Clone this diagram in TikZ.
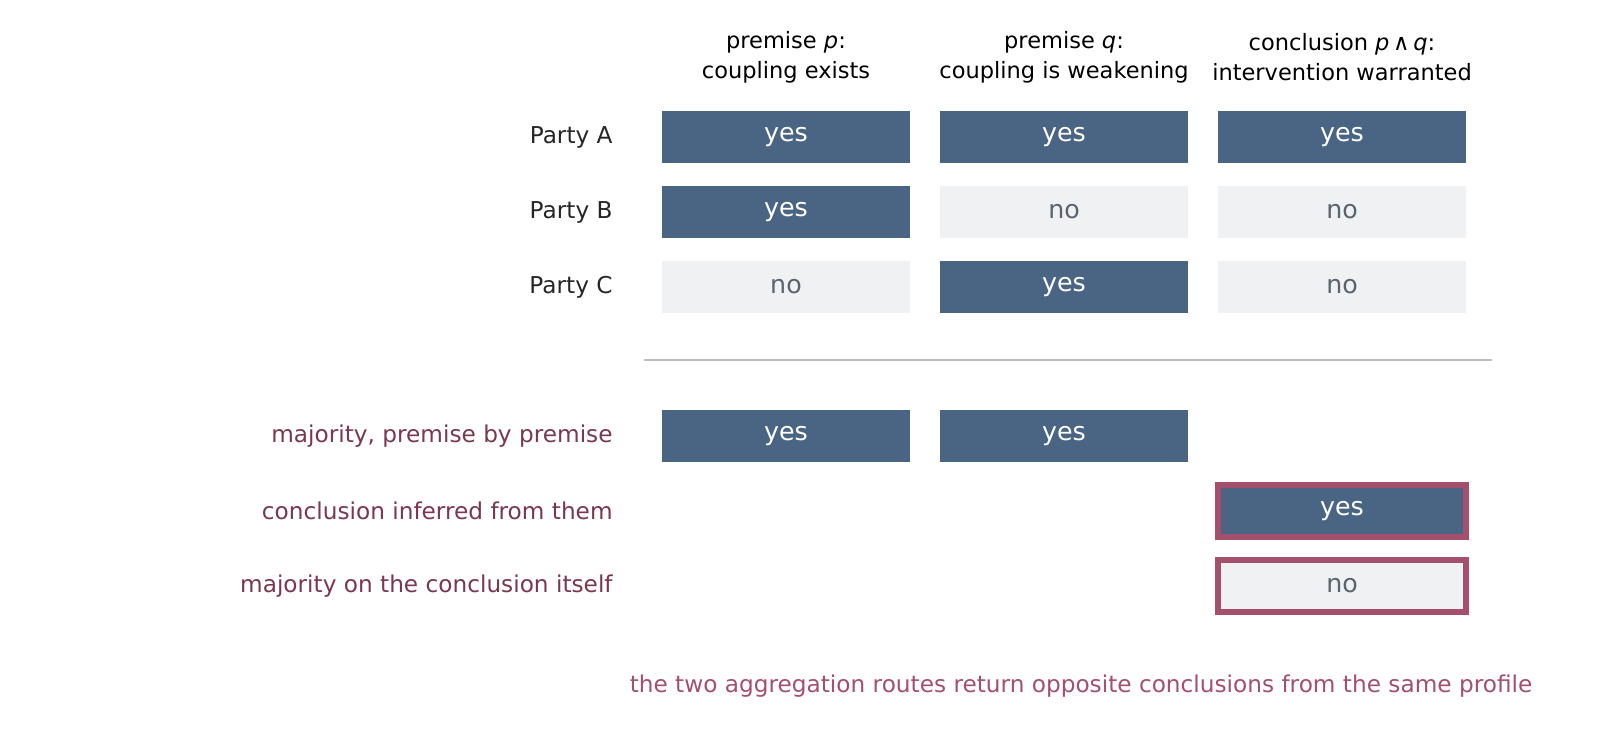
\documentclass[tikz,border=0pt]{standalone}
\usepackage{fontspec}
\setmainfont{DejaVu Sans}
\begin{document}
\begin{tikzpicture}[x=0.01cm,y=-0.01cm,
  cell/.style={minimum width=248\pgflinewidth*0+2.48cm,minimum height=0.52cm,inner sep=0pt,font=\fontsize{7.2pt}{8pt}\selectfont},
  yes/.style={cell,fill=cY,text=white},
  no/.style={cell,fill=cN,text=cT},
  hl/.style={draw=cR,line width=1.6pt},
  lab/.style={anchor=east,font=\fontsize{6.6pt}{8pt}\selectfont,text=black!85},
  rlab/.style={anchor=east,font=\fontsize{6.6pt}{8pt}\selectfont,text=cL},
  hd/.style={align=center,font=\fontsize{6.4pt}{8.6pt}\selectfont}]
\definecolor{cY}{HTML}{4A6584}
\definecolor{cN}{HTML}{F0F1F3}
\definecolor{cT}{HTML}{5A6470}
\definecolor{cR}{HTML}{A4506C}
\definecolor{cL}{HTML}{7A3850}
\useasboundingbox (0,0) rectangle (1607,742);
\node[hd] (h1) at (786,57) {premise \textit{p}:\\coupling exists};
\node[hd] (h2) at (1064,57) {premise \textit{q}:\\coupling is weakening};
\node[hd] (h3) at (1342,57) {conclusion \textit{p}\,∧\,\textit{q}:\\intervention warranted};
\node[lab] (la) at (625,137) {Party A};
\node[lab] (lb) at (625,212) {Party B};
\node[lab] (lc) at (625,287) {Party C};
\node[yes] (a1) at (786,137) {yes};
\node[yes] (a2) at (1064,137) {yes};
\node[yes] (a3) at (1342,137) {yes};
\node[yes] (b1) at (786,212) {yes};
\node[no] (b2) at (1064,212) {no};
\node[no] (b3) at (1342,212) {no};
\node[no] (c1) at (786,287) {no};
\node[yes] (c2) at (1064,287) {yes};
\node[no] (c3) at (1342,287) {no};
\coordinate (s1) at (644,360);
\coordinate (s2) at (1492,360);
\draw[black!25,line width=0.7pt] (s1) -- (s2);
\node[rlab] (m1) at (625,436) {majority, premise by premise};
\node[rlab] (m2) at (625,511) {conclusion inferred from them};
\node[rlab] (m3) at (625,586) {majority on the conclusion itself};
\node[yes] (d1) at (786,436) {yes};
\node[yes] (d2) at (1064,436) {yes};
\node[yes,hl] (e3) at (1342,511) {yes};
\node[no,hl] (f3) at (1342,586) {no};
\node[font=\fontsize{6.6pt}{8pt}\selectfont,text=cR] (ft) at (1081,686) {the two aggregation routes return opposite conclusions from the same profile};
\end{tikzpicture}
\end{document}
